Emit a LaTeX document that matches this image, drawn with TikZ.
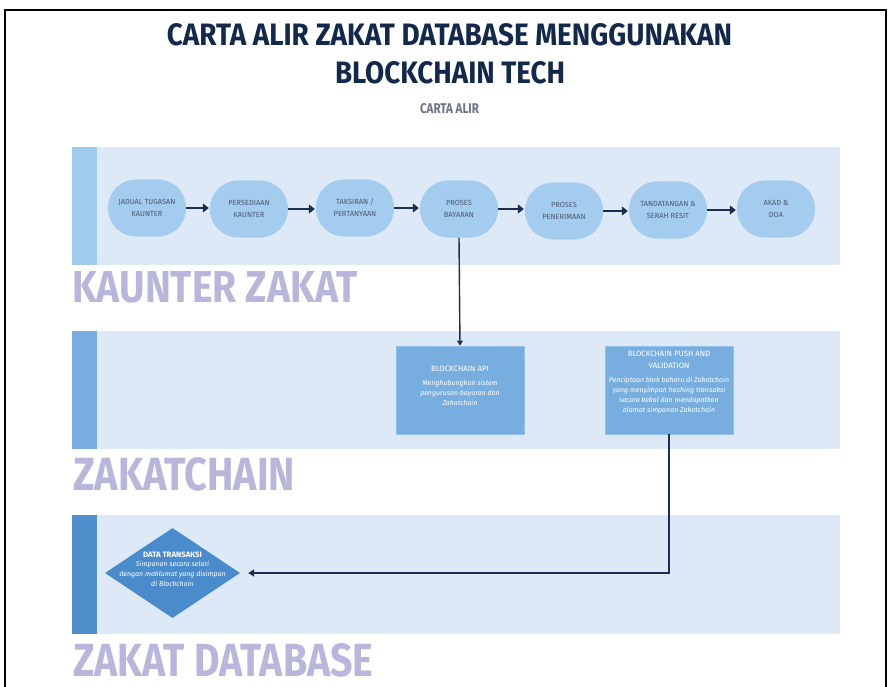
\documentclass[tikz,border=0pt]{standalone}
\usepackage{fontspec}
\setmainfont{Fira Sans}
\usetikzlibrary{arrows.meta,shapes.geometric}
\definecolor{titlec}{HTML}{13294B}
\definecolor{subc}{HTML}{6E7386}
\definecolor{lanebg}{HTML}{DDE9F6}
\definecolor{acc1}{HTML}{9FCBEC}
\definecolor{acc2}{HTML}{78ADDF}
\definecolor{acc3}{HTML}{4E8FCC}
\definecolor{pillc}{HTML}{A3CCEE}
\definecolor{boxc}{HTML}{78AEDF}
\definecolor{boxb}{HTML}{94C0E8}
\definecolor{diac}{HTML}{4A8CCB}
\definecolor{arrc}{HTML}{1C2E50}
\definecolor{lanelab}{HTML}{B9B6DC}
\definecolor{pilltext}{HTML}{4A5670}
\tikzset{
  pill/.style={draw=none, fill=pillc, rounded corners=28pt, minimum width=78pt, minimum height=57pt, align=center, inner sep=1pt, font=\fontsize{7.4}{12}\selectfont, text=pilltext},
  flowarrow/.style={draw=arrc, line width=2.3pt, -{Triangle[length=6pt,width=9pt]}, shorten >=1pt},
  vline/.style={draw=arrc, line width=1.4pt},
  bluebox/.style={draw=boxb, line width=0.8pt, fill=boxc, minimum width=128pt, minimum height=88pt, inner sep=0pt},
  boxtitle/.style={text=white, font=\fontsize{7.8}{11.5}\selectfont, align=center, inner sep=0pt},
  boxdesc/.style={text=white, font=\fontsize{7}{10}\selectfont\itshape, align=center, inner sep=0pt},
  lanelabel/.style={anchor=north west, inner sep=0pt, text=lanelab, font=\bfseries}
}
\begin{document}
\begin{tikzpicture}[x=1pt,y=-1pt]
\useasboundingbox (0,0) rectangle (891,687);
\fill[white] (0,0) rectangle (891,687);
% outer frame
\draw[black, line width=1.6pt] (5,700) -- (5,10) -- (886,10) -- (886,700);
% title
\node[anchor=north, inner sep=0pt, text=titlec] (t1) at (449.5,23) {\resizebox{565pt}{22pt}{\bfseries CARTA ALIR ZAKAT DATABASE MENGGUNAKAN}};
\node[anchor=north, inner sep=0pt, text=titlec] (t2) at (450,61) {\resizebox{230pt}{22pt}{\bfseries BLOCKCHAIN TECH}};
\node[anchor=north, inner sep=0pt, text=subc] (t3) at (449.5,103) {\resizebox{59pt}{10pt}{\bfseries CARTA ALIR}};
% lanes
\fill[lanebg] (72,147) rectangle (840,265);
\fill[acc1] (72,147) rectangle (97,265);
\fill[lanebg] (72,331) rectangle (840,449);
\fill[acc2] (72,331) rectangle (97,449);
\fill[lanebg] (72,515) rectangle (840,634);
\fill[acc3] (72,515) rectangle (97,634);
% lane labels
\node[lanelabel] (l1) at (72,271) {\resizebox{285pt}{31pt}{KAUNTER ZAKAT}};
\node[lanelabel] (l2) at (73,457) {\resizebox{222pt}{33pt}{ZAKATCHAIN}};
\node[lanelabel] (l3) at (73,643) {\resizebox{300pt}{33pt}{ZAKAT DATABASE}};
% process pills
\node[pill] (p1) at (147,208) {JADUAL TUGASAN\\KAUNTER};
\node[pill] (p2) at (249,209) {PERSEDIAAN\\KAUNTER};
\node[pill] (p3) at (355,208) {TAKSIRAN /\\PERTANYAAN};
\node[pill] (p4) at (459,209) {PROSES\\BAYARAN};
\node[pill] (p5) at (564,211) {PROSES\\PENERIMAAN};
\node[pill] (p6) at (668,210) {TANDATANGAN \&\\SERAH RESIT};
\node[pill] (p7) at (776,209) {AKAD \&\\DOA};
\draw[flowarrow] (p1.east) -- (p2.west |- p1.east);
\draw[flowarrow] (p2.east) -- (p3.west |- p2.east);
\draw[flowarrow] (p3.east) -- (p4.west |- p3.east);
\draw[flowarrow] (p4.east) -- (p5.west |- p4.east);
\draw[flowarrow] (p5.east) -- (p6.west |- p5.east);
\draw[flowarrow] (p6.east) -- (p7.west |- p6.east);
% zakatchain boxes
\node[bluebox] (api) at (460,390) {};
\node[boxtitle] (apit) at (460,369) {BLOCKCHAIN API};
\node[boxdesc, anchor=north] (apid) at (460,380) {Menghubungkan sistem\\pengurusan bayaran dan\\Zakatchain};
\node[bluebox] (push) at (669,390) {};
\node[boxtitle, anchor=north] (pusht) at (669,351) {BLOCKCHAIN PUSH AND\\VALIDATION};
\node[boxdesc, anchor=north] (pushd) at (669,377) {Penciptaan blok baharu di Zakatchain\\yang menyimpan hashing transaksi\\secara kekal dan mendapatkan\\alamat simpanan Zakatchain};
% database diamond
\node[diamond, aspect=1.5, fill=diac, minimum width=135pt, minimum height=90pt, inner sep=0pt] (db) at (172.5,573) {};
\node[boxtitle] (dbt) at (172.5,555) {\bfseries DATA TRANSAKSI};
\node[boxdesc, anchor=north] (dbd) at (172.5,561) {Simpanan secara selari\\dengan maklumat yang disimpan\\di Blockchain};
% connectors
\draw[vline, -{Triangle[length=5pt,width=6pt]}] (p4.south) -- (api.north);
\draw[vline, -{Triangle[length=6pt,width=7pt]}, shorten >=8pt] (push.south) |- (db.east);
\end{tikzpicture}
\end{document}
